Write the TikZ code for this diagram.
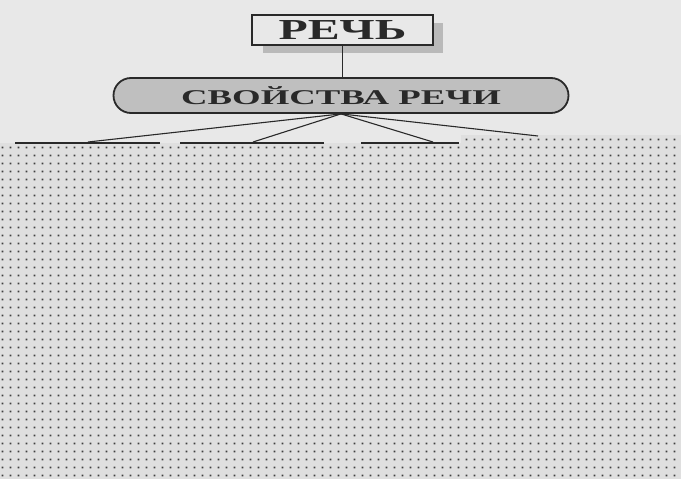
\documentclass[tikz,border=0pt]{standalone}
\usepackage{fontspec}
\usepackage{graphicx}
\setmainfont{Liberation Serif}
\usetikzlibrary{patterns.meta}

\tikzdeclarepattern{
  name=maskdots, type=uncolored,
  bottom left={(0pt,0pt)}, top right={(8pt,8pt)},
  tile size={(8pt,8pt)},
  code={\fill (3pt,3pt) rectangle (5pt,5pt);}
}

\definecolor{paper}{gray}{0.91}
\definecolor{inkgray}{gray}{0.16}

\tikzset{
  titlebox/.style={draw=inkgray, line width=1.4pt, fill=paper, minimum width=181, minimum height=30, inner sep=0pt},
  propbox/.style={draw=inkgray, line width=1.8pt, fill=gray!50, rounded corners=17.5, minimum width=455, minimum height=35, inner sep=0pt},
  branch/.style={inkgray, line width=1.1pt}
}

\begin{document}
\begin{tikzpicture}[x=1pt,y=-1pt]
\useasboundingbox (0,0) rectangle (681,479);
\fill[paper] (0,0) rectangle (681,479);
% masked lower part
\fill[gray!25] (0,143)--(461,143)--(461,135)--(681,135)--(681,479)--(0,479)-- cycle;
\fill[pattern={maskdots}, pattern color=black!75] (0,143)--(461,143)--(461,135)--(681,135)--(681,479)--(0,479)-- cycle;
\draw[branch] (15,143)--(160,143);
\draw[branch] (180,143)--(324,143);
\draw[branch] (361,143)--(459,143);

\fill[gray!55] (263,23) rectangle (443,53);
\node[titlebox] (rech) at (342.5,30) {\fontsize{29}{29}\selectfont\bfseries\color{inkgray}\scalebox{1.65}[1]{РЕЧЬ}};
\node[propbox] (props) at (341,95.5) {\fontsize{21}{21}\selectfont\bfseries\color{inkgray}\scalebox{1.75}[1]{СВОЙСТВА РЕЧИ}};
\draw[branch] (rech.south)--(rech.south |- props.north);

\coordinate (e1) at (88,142);
\coordinate (e2) at (253,142);
\coordinate (e3) at (433,142);
\coordinate (e4) at (538,136);
\foreach \e in {e1,e2,e3,e4}
  \draw[branch] (props.south)--(\e);
\end{tikzpicture}
\end{document}
